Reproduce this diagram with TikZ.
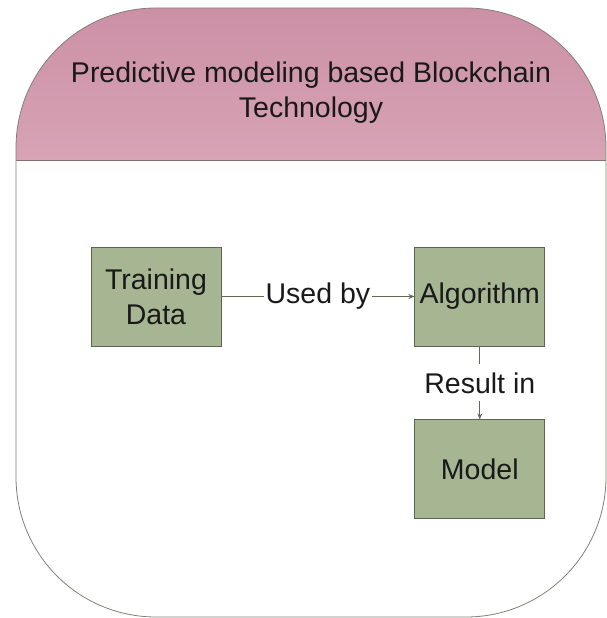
\documentclass[tikz,border=0pt]{standalone}
\usepackage{fontspec}
\setmainfont{Liberation Sans}
\usetikzlibrary{positioning,arrows.meta}
\definecolor{headpinktop}{RGB}{204,144,165}
\definecolor{headpinkbot}{RGB}{215,163,181}
\definecolor{boxgreen}{RGB}{166,181,146}
\definecolor{boxedge}{RGB}{92,100,82}
\definecolor{linkcol}{RGB}{98,104,84}
\definecolor{rimgray}{RGB}{128,128,120}
\definecolor{headrim}{RGB}{132,112,112}

\begin{document}
\begin{tikzpicture}[x=1pt,y=1pt,
        every node/.style={font=\fontsize{28.5}{35}\selectfont, text=black!90},
        stage/.style={draw=boxedge, fill=boxgreen, line width=0.8pt, minimum width=130pt,
          minimum height=99pt, inner sep=0pt, align=center},
        link/.style={draw=linkcol, line width=0.8pt, -{Stealth[length=6pt,width=5pt]}},
        tag/.style={fill=white, inner xsep=2pt, inner ysep=8pt}]
        \useasboundingbox (0,0) rectangle (607,618);
        \shade[top color=headpinktop, bottom color=headpinkbot] (16,457) -- (16,470)
          arc (180:90:140) -- (466,610) arc (90:0:140) -- (606,457) -- cycle;
        \draw[rimgray, line width=0.8pt, rounded corners=140pt] (16,1) rectangle (606,610);
        \draw[headrim, line width=1pt] (16,457) -- (606,457);
        \node[align=center] (title) at (311,525) {Predictive modeling based Blockchain\\Technology};
        \node[stage] (train) at (156,321.5) {Training\\Data};
        \node[stage, right=193pt of train] (algo) {Algorithm};
        \node[stage, below=73pt of algo] (model) {Model};
        \draw[link] (train) -- node[tag] {Used by} (algo);
        \draw[link] (algo) -- node[tag] {Result in} (model);
\end{tikzpicture}
\end{document}
